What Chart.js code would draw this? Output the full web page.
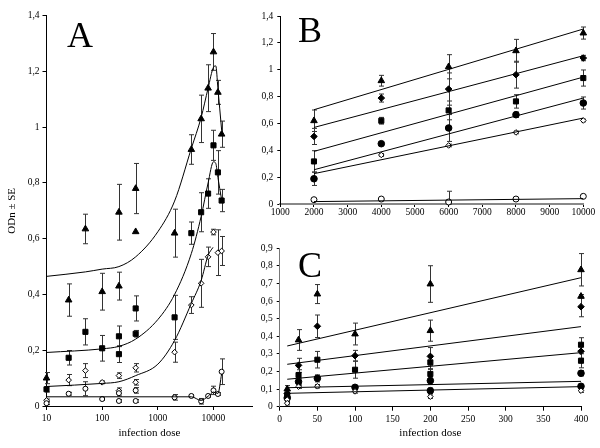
<!DOCTYPE html>
<html>
<head>
<meta charset="utf-8">
<script src="https://cdn.jsdelivr.net/npm/chart.js@4.4.1/dist/chart.umd.min.js"></script>
<style>
  body { margin: 0; background: #fff; width: 600px; height: 448px; position: relative; overflow: hidden; }
  .box { position: absolute; }
  .letter { position: absolute; font-family: "Liberation Serif", "DejaVu Serif", serif; font-size: 36px; line-height: 1; color: #000; }
</style>
</head>
<body>
<div class="box" style="left:0;top:0;width:262px;height:448px"><canvas id="chartA"></canvas></div>
<div class="box" style="left:256px;top:0;width:344px;height:224px"><canvas id="chartB"></canvas></div>
<div class="box" style="left:256px;top:224px;width:344px;height:224px"><canvas id="chartC"></canvas></div>
<div class="letter" style="left:67px;top:17px">A</div>
<div class="letter" style="left:298px;top:12px">B</div>
<div class="letter" style="left:298px;top:247px">C</div>
<script>
// PANEL A - log dose
const A_ticks = [10, 100, 1000, 10000];
const A_dose = [10, 25, 50, 100, 200, 200, 400, 400, 2000, 4000, 6000, 8000, 10000, 12000, 14000];
const A_tri = [0.10, 0.38, 0.635, 0.41, 0.43, 0.695, 0.625, 0.78, 0.62, 0.92, 1.03, 1.14, 1.27, 1.125, 0.975];
const A_tri_se = [0.02, 0.058, 0.053, 0.066, 0.05, 0.1, 0, 0.09, 0.086, 0.053, 0.085, 0.084, 0.066, 0.043, 0.047];
const A_sq = [0.06, 0.173, 0.266, 0.207, 0.25, 0.186, 0.35, 0.259, 0.318, 0.62, 0.695, 0.762, 0.935, 0.838, 0.737];
const A_sq_se = [0.01, 0.026, 0.047, 0.046, 0.037, 0.03, 0.045, 0.012, 0.079, 0.04, 0.07, 0.053, 0.054, 0.078, 0.04];
const A_dia = [0.02, 0.093, 0.127, 0.085, 0.109, 0.055, 0.137, 0.085, 0.193, 0.362, 0.44, 0.535, 0.624, 0.55, 0.556];
const A_dia_se = [0.005, 0.02, 0.025, 0.005, 0.01, 0.01, 0.015, 0.01, 0.036, 0.03, 0.086, 0.035, 0.01, 0.082, 0.052];
const A_circ = [0.01, 0.044, 0.062, 0.025, 0.018, 0.046, 0.018, 0.056, 0.031, 0.036, 0.017, 0.036, 0.056, 0.043, 0.123];
const A_circ_se = [0.005, 0.005, 0.025, 0.005, 0.005, 0.01, 0.005, 0.01, 0.01, 0.005, 0.01, 0.005, 0.015, 0.005, 0.046];

// fitted curves in A
const A_fit1_dose = [10, 50, 100, 200, 400, 1000, 2000, 4000, 6000, 8000, 10000, 11000, 12000, 14000];
const A_fit1 = [0.465, 0.481, 0.491, 0.5, 0.535, 0.625, 0.735, 0.924, 1.035, 1.14, 1.215, 1.22, 1.14, 0.99];
const A_fit2_dose = [10, 100, 200, 400, 1000, 2000, 4000, 6000, 8000, 10000, 11000, 12000, 14000];
const A_fit2 = [0.192, 0.205, 0.214, 0.24, 0.31, 0.4, 0.547, 0.68, 0.8, 0.876, 0.87, 0.82, 0.74];
const A_fit3_dose = [10, 100, 200, 400, 1000, 2000, 4000, 6000, 8000, 9800];
const A_fit3 = [0.07, 0.081, 0.087, 0.109, 0.15, 0.235, 0.368, 0.45, 0.54, 0.569];
const A_fit4_dose = [10, 2000, 4000, 6000, 8000, 10000, 12000, 14000];
const A_fit4 = [0.033, 0.033, 0.033, 0.02, 0.035, 0.05, 0.045, 0.115];

// PANEL B
const B_dose = [2000, 4000, 6000, 8000, 10000];
const B_tri = [0.62, 0.918, 1.022, 1.141, 1.273];
const B_tri_se = [0.08, 0.04, 0.09, 0.085, 0.045];
const B_dia = [0.503, 0.789, 0.856, 0.963, 1.087];
const B_dia_se = [0.06, 0.03, 0.12, 0.1, 0.02];
const B_sq = [0.317, 0.62, 0.697, 0.764, 0.938];
const B_sq_se = [0.08, 0.025, 0.07, 0.05, 0.06];
const B_circ = [0.188, 0.449, 0.566, 0.665, 0.752];
const B_circ_se = [0.05, 0.01, 0.1, 0.02, 0.045];
const B_odia_dose = [4000, 6000, 8000, 10000];
const B_odia = [0.365, 0.436, 0.533, 0.622];
const B_odia_se = [0.01, 0.01, 0.01, 0.01];
const B_ocirc = [0.032, 0.037, 0.015, 0.037, 0.057];
const B_ocirc_se = [0.005, 0.005, 0.08, 0.005, 0.005];
const B_fit_dose = [2000, 10000];
const B_fit1 = [0.702, 1.303];
const B_fit2 = [0.57, 1.104];
const B_fit3 = [0.392, 0.945];
const B_fit4 = [0.255, 0.789];
const B_fit5 = [0.226, 0.64];
const B_fit6 = [0.018, 0.04];

// PANEL C
const C_dose = [10, 25, 50, 100, 200, 200, 400, 400];
const C_tri = [0.1, 0.379, 0.64, 0.413, 0.697, 0.432, 0.778, 0.627];
const C_tri_se = [0.02, 0.059, 0.054, 0.062, 0.104, 0.06, 0.092, 0.01];
const C_dia_dose = [10, 25, 50, 100, 200, 400, 400];
const C_dia = [0.075, 0.235, 0.457, 0.29, 0.286, 0.568, 0.315];
const C_dia_se = [0.015, 0.04, 0.064, 0.03, 0.05, 0.057, 0.04];
const C_sq = [0.065, 0.18, 0.267, 0.21, 0.252, 0.186, 0.352, 0.261];
const C_sq_se = [0.015, 0.03, 0.047, 0.048, 0.04, 0.03, 0.04, 0.04];
const C_circ = [0.05, 0.142, 0.161, 0.11, 0.148, 0.091, 0.19, 0.116];
const C_circ_se = [0.02, 0.02, 0.02, 0.01, 0.02, 0.015, 0.015, 0.01];
const C_odia_dose = [10, 10, 25, 50, 100, 200, 400];
const C_odia = [0.04, 0.02, 0.114, 0.116, 0.087, 0.057, 0.091];
const C_odia_se = [0.01, 0.01, 0.01, 0.01, 0.01, 0.01, 0.01];
const C_fit_dose = [10, 400];
const C_fit1 = [0.345, 0.733];
const C_fit2 = [0.241, 0.455];
const C_fit3 = [0.156, 0.307];
const C_fit4 = [0.108, 0.144];
const C_fit5 = [0.076, 0.114];

const SERIF = '"Liberation Serif", "DejaVu Serif", serif';

function pts(xs, ys) {
  return xs.map((x, i) => ({ x: x, y: ys[i] }));
}

function marks(xs, ys, se, style, filled, r) {
  return {
    data: pts(xs, ys), errors: se, pointStyle: style, pointRadius: r,
    backgroundColor: filled ? '#000' : '#fff', borderColor: '#000', borderWidth: 1,
    showLine: false, clip: false
  };
}

function curve(xs, ys) {
  return {
    data: pts(xs, ys), showLine: true, pointRadius: 0, borderColor: '#000',
    borderWidth: 1, fill: false, cubicInterpolationMode: 'monotone', clip: false
  };
}

// error bars drawn through the chart scales
const errorBars = {
  id: 'errorBars',
  beforeDatasetsDraw(chart) {
    const ctx = chart.ctx, xs = chart.scales.x, ys = chart.scales.y;
    ctx.save();
    ctx.strokeStyle = '#333';
    ctx.lineWidth = 1;
    chart.data.datasets.forEach(ds => {
      if (!ds.errors) return;
      ds.data.forEach((p, i) => {
        const e = ds.errors[i];
        if (!e) return;
        const px = Math.round(xs.getPixelForValue(p.x)) + 0.5;
        const top = ys.getPixelForValue(p.y + e);
        const bot = Math.min(ys.getPixelForValue(Math.max(p.y - e, 0)), ys.bottom);
        ctx.beginPath();
        ctx.moveTo(px, top); ctx.lineTo(px, bot);
        ctx.moveTo(px - 2.5, top); ctx.lineTo(px + 2.5, top);
        ctx.moveTo(px - 2.5, bot); ctx.lineTo(px + 2.5, bot);
        ctx.stroke();
      });
    });
    ctx.restore();
  }
};

function comma(v) {
  return String(Math.round(v * 10) / 10).replace('.', ',');
}

function gridCfg(len) {
  return { drawOnChartArea: false, drawTicks: true, tickLength: len, color: '#000' };
}

function baseOptions(padding, xScale, yScale) {
  return {
    responsive: true,
    maintainAspectRatio: false,
    animation: false,
    layout: { padding: padding },
    plugins: { legend: { display: false }, tooltip: { enabled: false } },
    scales: { x: xScale, y: yScale }
  };
}

// chart A
new Chart(document.getElementById('chartA'), {
  type: 'scatter',
  data: {
    datasets: [
      curve(A_fit1_dose, A_fit1),
      curve(A_fit2_dose, A_fit2),
      curve(A_fit3_dose, A_fit3),
      curve(A_fit4_dose, A_fit4),
      marks(A_dose, A_circ, A_circ_se, 'circle', false, 2.5),
      marks(A_dose, A_dia, A_dia_se, 'rectRot', false, 2.8),
      marks(A_dose, A_sq, A_sq_se, 'rect', true, 3.6),
      marks(A_dose, A_tri, A_tri_se, 'triangle', true, 3.8)
    ]
  },
  options: baseOptions({ top: 15.7, right: 9.6, left: 0, bottom: 6 }, {
    type: 'logarithmic', min: 10, max: 50000,
    afterBuildTicks: s => { s.ticks = A_ticks.map(v => ({ value: v })); },
    afterFit: s => { s.height = 36; },
    grid: gridCfg(4),
    border: { color: '#000' },
    ticks: { color: '#000', font: { family: SERIF, size: 9.5 }, padding: 3, maxRotation: 0, callback: v => String(v) },
    title: { display: true, text: 'infection dose', color: '#000', font: { family: SERIF, size: 11 }, padding: { top: 0, bottom: 2 } }
  }, {
    min: 0, max: 1.4,
    afterFit: s => { s.width = 46.5; },
    grid: gridCfg(4),
    border: { color: '#000' },
    ticks: { stepSize: 0.2, color: '#000', font: { family: SERIF, size: 9.5 }, padding: 3, callback: comma },
    title: { display: true, text: 'ODn ± SE', color: '#000', font: { family: SERIF, size: 11 }, padding: { top: 6, bottom: 0 } }
  }),
  plugins: [errorBars]
});

// chart B
new Chart(document.getElementById('chartB'), {
  type: 'scatter',
  data: {
    datasets: [
      curve(B_fit_dose, B_fit1),
      curve(B_fit_dose, B_fit2),
      curve(B_fit_dose, B_fit3),
      curve(B_fit_dose, B_fit4),
      curve(B_fit_dose, B_fit5),
      curve(B_fit_dose, B_fit6),
      marks(B_dose, B_ocirc, B_ocirc_se, 'circle', false, 3),
      marks(B_odia_dose, B_odia, B_odia_se, 'rectRot', false, 2.8),
      marks(B_dose, B_circ, B_circ_se, 'circle', true, 3.3),
      marks(B_dose, B_sq, B_sq_se, 'rect', true, 3.6),
      marks(B_dose, B_dia, B_dia_se, 'rectRot', true, 3.3),
      marks(B_dose, B_tri, B_tri_se, 'triangle', true, 3.8)
    ]
  },
  options: baseOptions({ top: 16, right: 16.7, left: 0, bottom: 0 }, {
    min: 1000, max: 10000,
    afterFit: s => { s.height = 20; },
    grid: gridCfg(3),
    border: { color: '#888', width: 2 },
    ticks: { stepSize: 1000, color: '#000', font: { family: SERIF, size: 9.5 }, padding: 0, maxRotation: 0, autoSkip: false, callback: v => String(v) }
  }, {
    min: 0, max: 1.4,
    afterFit: s => { s.width = 24.3; },
    grid: gridCfg(3),
    border: { color: '#000' },
    ticks: { stepSize: 0.2, color: '#000', font: { family: SERIF, size: 9.5 }, padding: 4, callback: comma }
  }),
  plugins: [errorBars]
});

// chart C
new Chart(document.getElementById('chartC'), {
  type: 'scatter',
  data: {
    datasets: [
      curve(C_fit_dose, C_fit1),
      curve(C_fit_dose, C_fit2),
      curve(C_fit_dose, C_fit3),
      curve(C_fit_dose, C_fit4),
      curve(C_fit_dose, C_fit5),
      marks(C_odia_dose, C_odia, C_odia_se, 'rectRot', false, 2.8),
      marks(C_dose, C_circ, C_circ_se, 'circle', true, 3.3),
      marks(C_dose, C_sq, C_sq_se, 'rect', true, 3.6),
      marks(C_dia_dose, C_dia, C_dia_se, 'rectRot', true, 3.3),
      marks(C_dose, C_tri, C_tri_se, 'triangle', true, 3.8)
    ]
  },
  options: baseOptions({ top: 24.3, right: 19, left: 0, bottom: 6 }, {
    min: 0, max: 400,
    afterFit: s => { s.height = 35.3; },
    grid: gridCfg(4),
    border: { color: '#000' },
    ticks: { stepSize: 50, color: '#000', font: { family: SERIF, size: 9.5 }, padding: 3, maxRotation: 0, autoSkip: false },
    title: { display: true, text: 'infection dose', color: '#000', font: { family: SERIF, size: 11 }, padding: { top: 0, bottom: 2 } }
  }, {
    min: 0, max: 0.9,
    afterFit: s => { s.width = 23.7; },
    grid: gridCfg(3),
    border: { color: '#777' },
    ticks: { stepSize: 0.1, color: '#000', font: { family: SERIF, size: 9.5 }, padding: 4, callback: comma }
  }),
  plugins: [errorBars]
});
</script>
</body>
</html>
